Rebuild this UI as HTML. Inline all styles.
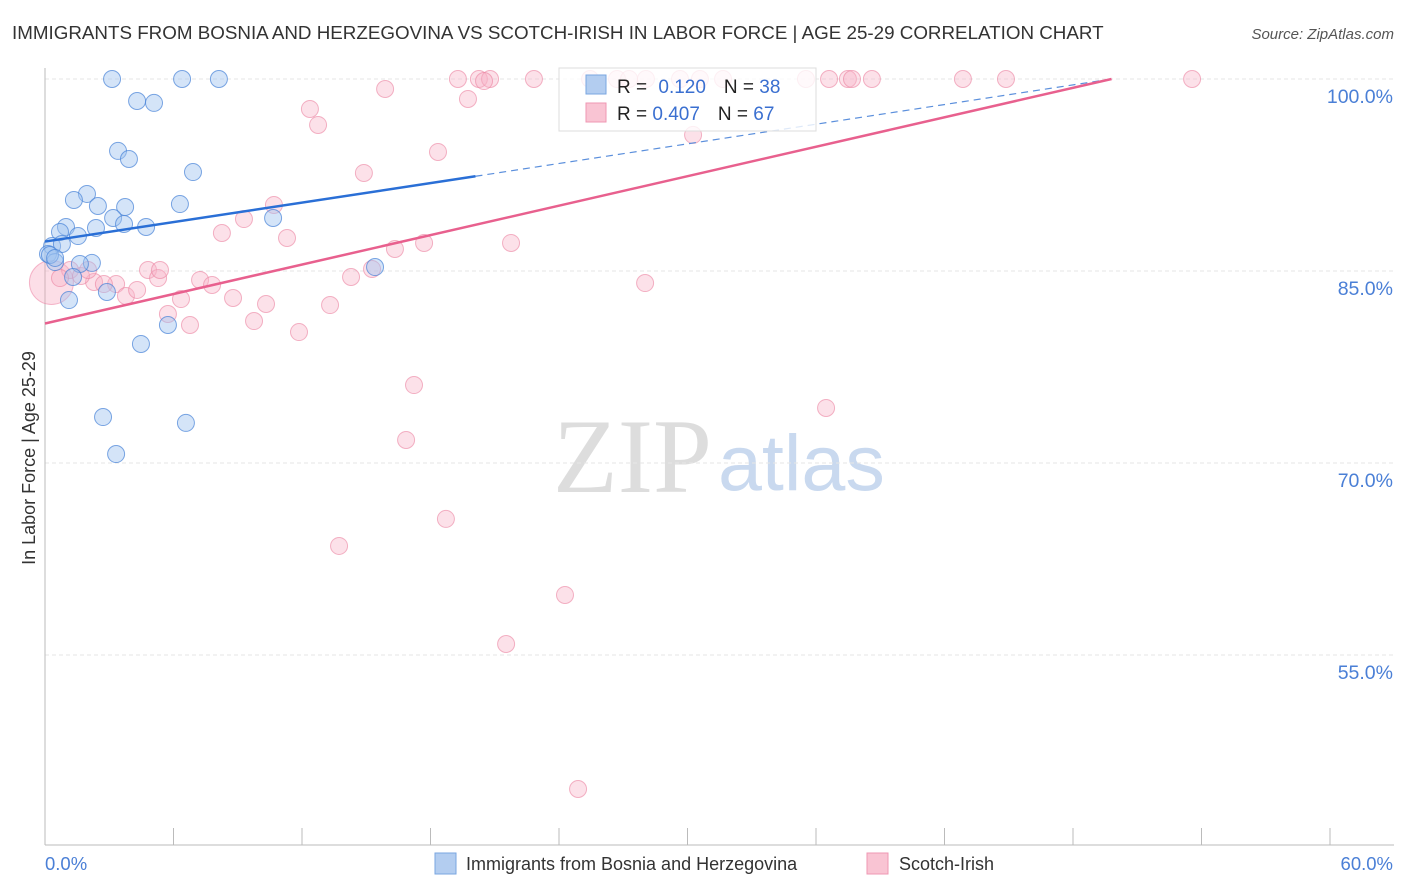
<!DOCTYPE html>
<html><head><meta charset="utf-8"><style>
body{margin:0;background:#fff;font-family:"Liberation Sans",sans-serif;}
svg{display:block}
</style></head><body>
<svg id="c" width="1406" height="892">
<text x="12" y="39" font-size="18.8" fill="#333">IMMIGRANTS FROM BOSNIA AND HERZEGOVINA VS SCOTCH-IRISH IN LABOR FORCE | AGE 25-29 CORRELATION CHART</text>
<text x="1394" y="39" font-size="15" fill="#555" text-anchor="end" font-style="italic">Source: ZipAtlas.com</text>
<text x="35" y="458" font-size="18" fill="#333" text-anchor="middle" transform="rotate(-90 35 458)">In Labor Force | Age 25-29</text>
<text x="553" y="492" font-size="106" fill="#ddd" font-family="Liberation Serif,serif">ZIP</text>
<text x="718" y="490" font-size="79" fill="#c9d9ef">atlas</text>
<g id="grid"></g><g id="pts"></g><g id="lines"></g>
<g>
<rect x="559" y="68" width="257" height="63" fill="rgba(255,255,255,0.8)" stroke="#ddd"/>
<rect x="586" y="75" width="20" height="19" fill="#b3cdf0" stroke="#7aa6e0"/>
<rect x="586" y="103" width="20" height="19" fill="#f9c4d3" stroke="#ef97b3"/>
<text x="617" y="93" font-size="19" fill="#222">R = <tspan fill="#3a6fd0" dx="6">0.120</tspan><tspan dx="18">N = </tspan><tspan fill="#3a6fd0">38</tspan></text>
<text x="617" y="120" font-size="19" fill="#222">R = <tspan fill="#3a6fd0">0.407</tspan><tspan dx="18">N = </tspan><tspan fill="#3a6fd0">67</tspan></text>
</g>
<g>
<rect x="435" y="853" width="21" height="21" fill="#b3cdf0" stroke="#7aa6e0"/>
<text x="466" y="870" font-size="18" fill="#333">Immigrants from Bosnia and Herzegovina</text>
<rect x="867" y="853" width="21" height="21" fill="#f9c4d3" stroke="#ef97b3"/>
<text x="899" y="870" font-size="18" fill="#333">Scotch-Irish</text>
</g>
<text x="45" y="870" font-size="18.5" fill="#4a7fd6">0.0%</text>
<text x="1393" y="870" font-size="18.5" fill="#4a7fd6" text-anchor="end">60.0%</text>
</svg>
<script>
const yTicks=[100,85,70,55];
const yTickLabels=["100.0%","85.0%","70.0%","55.0%"];
const xTicks=[0,6,12,18,24,30,36,42,48,54,60];
const bluePx=[[112,79],[182,79],[219,79],[137,101],[154,103],[118,151],[129,159],[193,172],[87,194],[74,200],[98,206],[125,207],[180,204],[113,218],[124,224],[96,228],[66,227],[60,232],[78,236],[146,227],[273,218],[52,246],[62,244],[48,254],[55,262],[92,263],[80,264],[73,277],[107,292],[69,300],[168,325],[141,344],[375,267],[103,417],[186,423],[116,454],[50,255],[55,258]];
const pinkPx=[[310,109],[318,125],[385,89],[468,99],[438,152],[364,173],[274,205],[222,233],[244,219],[287,238],[424,243],[395,249],[511,243],[351,277],[372,269],[148,270],[158,278],[200,280],[212,285],[94,282],[116,284],[104,284],[126,296],[137,290],[181,299],[233,298],[266,304],[168,314],[190,325],[254,321],[299,332],[330,305],[70,270],[60,278],[645,283],[414,385],[406,440],[826,408],[446,519],[339,546],[565,595],[506,644],[578,789],[693,135],[458,79],[479,79],[490,79],[534,79],[617,79],[629,79],[680,79],[700,79],[723,79],[806,79],[829,79],[848,79],[852,79],[872,79],[963,79],[1006,79],[1192,79],[81,276],[88,270],[160,270],[590,79],[646,79],[484,81]];
const blueX=bluePx.map(p=>+((p[0]-45)/1285*60).toFixed(2)), blueY=bluePx.map(p=>+(100-(p[1]-79)/12.8).toFixed(2));
const pinkX=pinkPx.map(p=>+((p[0]-45)/1285*60).toFixed(2)), pinkY=pinkPx.map(p=>+(100-(p[1]-79)/12.8).toFixed(2));
const blueTrend=[[0,87.3],[20.1,92.4],[49.8,100]];
const pinkTrend=[[0,80.9],[49.8,100]];
const X=v=>45+v/60*1285, Y=v=>79+(100-v)*12.8;
const NS="http://www.w3.org/2000/svg";
function mk(t,a,p){const e=document.createElementNS(NS,t);for(const k in a)e.setAttribute(k,a[k]);p.appendChild(e);return e;}
const g=document.getElementById('grid');
yTicks.forEach((v,i)=>{const l=mk('line',{x1:45,x2:1394,y1:Y(v),y2:Y(v),stroke:'#e6e6e6','stroke-dasharray':'4 3'},g);


const t=mk('text',{x:1393,y:Y(v)+24,'font-size':19.5,fill:'#4a7fd6','text-anchor':'end'},g);t.textContent=yTickLabels[i];

});
const ax=mk('line',{x1:45,x2:45,y1:68,y2:845,stroke:'#bbb'},g);


const bx=mk('line',{x1:45,x2:1394,y1:845,y2:845,stroke:'#bbb'},g);


xTicks.forEach(v=>{const l=mk('line',{x1:X(v),x2:X(v),y1:828,y2:845,stroke:'#bbb'},g);

});
const pg=document.getElementById('pts');
const big=mk('circle',{cx:X(0.3),cy:Y(84.1),r:22,fill:'rgba(245,160,185,0.35)',stroke:'rgba(235,120,155,0.5)'},pg);


pinkX.forEach((x,i)=>{const c=mk('circle',{cx:X(x),cy:Y(pinkY[i]),r:8.5,fill:'rgba(248,180,200,0.4)',stroke:'rgba(235,130,160,0.6)'},pg);

});
blueX.forEach((x,i)=>{const c=mk('circle',{cx:X(x),cy:Y(blueY[i]),r:8.5,fill:'rgba(160,195,240,0.45)',stroke:'rgba(70,130,215,0.7)'},pg);

});
const lg=document.getElementById('lines');
const b1=mk('line',{x1:X(blueTrend[0][0]),y1:Y(blueTrend[0][1]),x2:X(blueTrend[1][0]),y2:Y(blueTrend[1][1]),stroke:'#2a6fd6','stroke-width':2.5},lg);


const b2=mk('line',{x1:X(blueTrend[1][0]),y1:Y(blueTrend[1][1]),x2:X(blueTrend[2][0]),y2:Y(blueTrend[2][1]),stroke:'#5b8fdc','stroke-width':1.2,'stroke-dasharray':'7 5'},lg);


const p1=mk('line',{x1:X(pinkTrend[0][0]),y1:Y(pinkTrend[0][1]),x2:X(pinkTrend[1][0]),y2:Y(pinkTrend[1][1]),stroke:'#e8608e','stroke-width':2.5},lg);


</script>
</body></html>
